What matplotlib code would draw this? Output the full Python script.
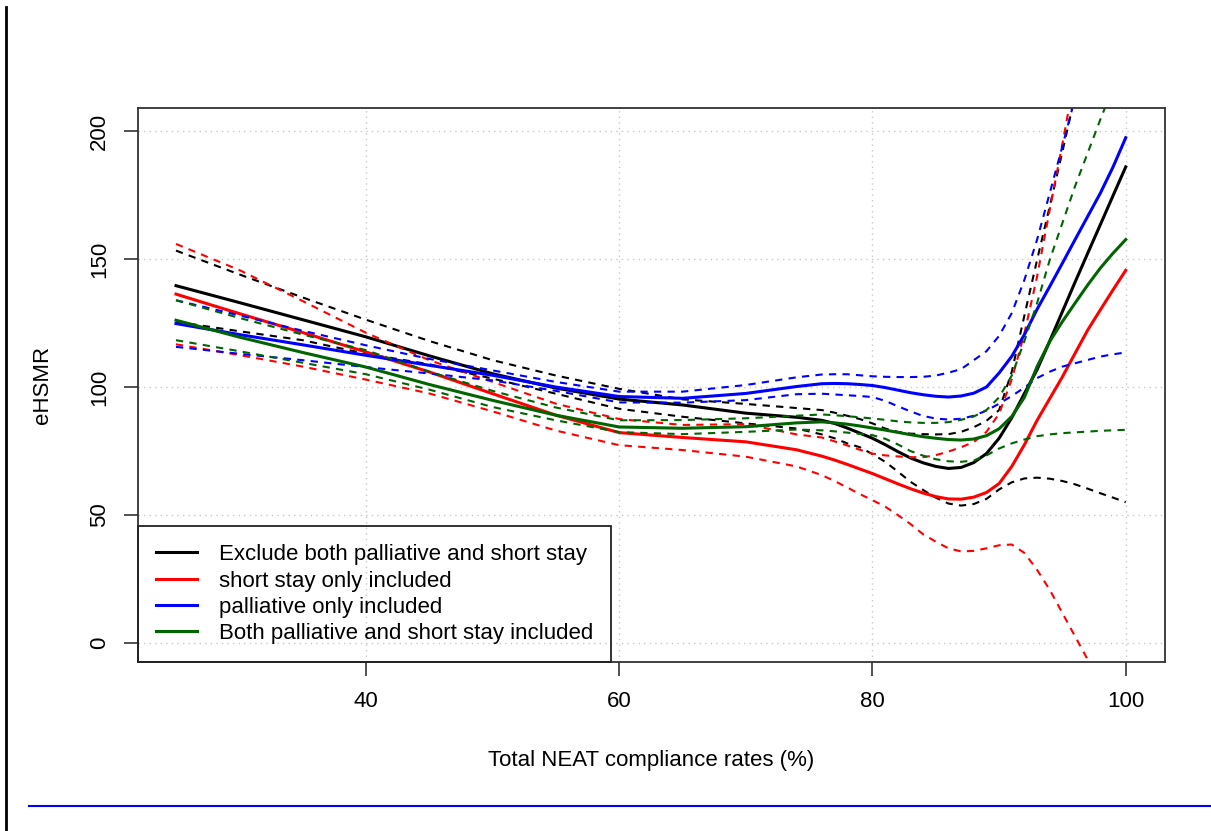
import numpy as np
import matplotlib.pyplot as plt
from matplotlib.lines import Line2D

plt.rcParams['font.family'] = ['Liberation Sans', 'DejaVu Sans']

# compliance rate grid (%)
x = [25, 30, 35, 40, 45, 50, 55, 60, 65, 70, 74, 76, 77, 78, 79, 80, 81, 82, 83, 84, 85, 86,
     87, 88, 89, 90, 91, 92, 93, 94, 95, 96, 97, 98, 99, 100]

# Exclude both palliative and short stay
excl_fit = [139.6, 133, 126.3, 119.6, 112.2, 105.2, 99.6, 95.3, 93, 89.8,
            88.2, 87, 85.8, 84, 82, 80, 77.5, 74.8, 72.3, 70.4, 69, 68.2, 68.6, 70.5, 74, 80,
            88, 97.5, 106.8, 118, 129.5, 141, 152.3, 163.5, 174.8, 186]
excl_hi = [153.3, 144, 135, 126.3, 118, 110.5, 104.5, 99.3, 95.2, 93.4,
           91.8, 91, 90, 88.8, 87.5, 85.8, 83.8, 82.5, 81.8, 81.6, 81.5, 81.6, 82.5, 84.3, 86.8, 91,
           106, 128, 149.7, 170.6, 192, 214, 236, 258, 280, 302]
excl_lo = [125.5, 121.8, 118.3, 113, 108.9, 103.3, 97.4, 91.5, 88.4, 85.8,
           83.8, 81.5, 80, 78, 76.5, 73.8, 70.8, 67, 63, 59.8, 56.8, 54.5, 53.7, 54.3, 56.3, 60,
           62.8, 64.3, 64.6, 64.2, 63.3, 62, 60.3, 58.5, 56.8, 55]

# short stay only included
short_fit = [136.3, 128.7, 121.3, 113.7, 105.9, 97.4, 89, 82.2, 80.3, 78.6,
             75.5, 73, 71.5, 69.8, 68, 66.2, 64.2, 62.2, 60.3, 58.6, 57.2, 56.3, 56.2, 57, 58.8, 62.3,
             69, 77.5, 87, 95.5, 104, 113.2, 122.3, 130.2, 138, 145.6]
short_hi = [155.9, 145.7, 133.6, 121.2, 110.5, 102, 93.5, 87.5, 85.2, 85.5,
            81.5, 80.3, 78.8, 77.2, 75.5, 74, 73.3, 72.9, 72.6, 72.6, 73.4, 74.8, 76.5, 78.5, 82.5, 89.6,
            103, 121, 143.2, 169.3, 195, 222, 250, 278, 306, 334]
short_lo = [116.7, 112.5, 108, 102.9, 97.5, 90.5, 83, 77.3, 75.4, 72.8,
            69, 65.6, 63.3, 60.8, 58.2, 55.8, 53.3, 50, 46.5, 42.5, 39.6, 37, 35.8, 36, 37, 38.2,
            38.5, 35.2, 28.6, 20.8, 11.7, 2.6, -6.5, -16, -26, -36]

# palliative only included
pall_fit = [124.8, 120.5, 116.5, 112.4, 108.5, 104.6, 100, 96.3, 95.6, 97.5,
            100.2, 101.3, 101.4, 101.3, 101, 100.6, 99.8, 98.8, 97.8, 97, 96.4, 96.1, 96.5, 97.6, 100, 105.5,
            112, 120.5, 130.4, 139.3, 148.4, 157.6, 166.7, 175.8, 186, 197.4]
pall_hi = [133.9, 128, 122, 116.3, 111, 106.5, 102, 98.2, 98.2, 100.8,
           103.8, 104.9, 105, 105, 104.6, 104.2, 104, 103.9, 103.9, 104, 104.5, 105.6, 107, 110.5, 114, 120,
           128.9, 141.9, 157.6, 175.8, 194.1, 213, 232, 251, 270, 289]
pall_lo = [115.7, 113, 110.5, 107.8, 105.3, 102.6, 98.5, 94, 93.9, 94.9,
           97.2, 97.4, 97.1, 96.8, 96.5, 96.1, 94.6, 92.5, 90.5, 88.7, 87.7, 87.3, 87.6, 88.8, 90.8, 93.5,
           96.5, 99.8, 103.5, 106, 108, 109.3, 110.6, 111.9, 112.8, 113.5]

# Both palliative and short stay included
both_fit = [126.1, 119.5, 113.5, 107.8, 101, 94.8, 89, 84.4, 83.9, 84.5,
            86, 86.4, 86, 85.5, 84.8, 84, 83.2, 82.3, 81.4, 80.6, 80, 79.5, 79.3, 79.7, 81, 83.7,
            88.5, 96, 108, 117.8, 125.6, 132.8, 139.9, 146.5, 152.3, 157.6]
both_hi = [133.9, 127, 120.5, 114.4, 106, 98.5, 92, 87, 87.1, 87.8,
           88.8, 89.3, 89, 88.6, 88.2, 87.7, 87.2, 86.6, 86.2, 86, 86, 86.3, 87.2, 88.5, 91, 96,
           104.5, 118, 132.8, 149.7, 164.1, 178.5, 191.5, 204.6, 217, 229]
both_lo = [118.3, 114, 109.5, 105, 99, 92.2, 87, 82.4, 81.6, 82.5,
           83.4, 83.1, 82.7, 82.2, 81.7, 81.2, 79.8, 77.6, 75, 73.2, 71.8, 71, 70.8, 71.3, 73.3, 76,
           78, 79.5, 80.8, 81.5, 82, 82.3, 82.6, 82.9, 83.1, 83.3]

labels = ['Exclude both palliative and short stay', 'short stay only included',
          'palliative only included', 'Both palliative and short stay included']
colors = ['black', 'red', 'blue', '#006400']
series = [(excl_fit, excl_hi, excl_lo), (short_fit, short_hi, short_lo),
          (pall_fit, pall_hi, pall_lo), (both_fit, both_hi, both_lo)]

fig = plt.figure(figsize=(12.11, 8.31), dpi=100)
ax = fig.add_axes([138 / 1211, 1 - 662 / 831, (1165 - 138) / 1211, (662 - 108) / 831])

for (fit, hi, lo), c in zip(series, colors):
    ax.plot(x, hi, color=c, lw=1.5, linestyle=(0, (3.5, 3)))
    ax.plot(x, lo, color=c, lw=1.5, linestyle=(0, (3.5, 3)))
    ax.plot(x, fit, color=c, lw=2.2)

ax.set_xlim(22, 103.1)
ax.set_ylim(-7.4, 209)
ax.set_xticks([40, 60, 80, 100])
ax.set_yticks([0, 50, 100, 150, 200])
ax.set_yticklabels(['0', '50', '100', '150', '200'], rotation=90, va='center')
ax.grid(True, color='#c8c8c8', linestyle=(0, (1, 3)), lw=1.0)
ax.set_axisbelow(True)
ax.tick_params(labelsize=16, length=10, width=1.2, color='#333333', pad=11)
ax.tick_params(axis='y', pad=10)
for s in ax.spines.values():
    s.set_color('#333333')
    s.set_linewidth(1.3)

ax.set_xlabel('Total NEAT compliance rates (%)', fontsize=16, labelpad=27)
ax.set_ylabel('eHSMR', fontsize=16, labelpad=26)

handles = [Line2D([], [], color=c, lw=2.2) for c in colors]
leg = ax.legend(handles, labels, loc='lower left', borderaxespad=0, fontsize=16,
                fancybox=False, edgecolor='#222222', facecolor='none', framealpha=1,
                handlelength=1.85, handletextpad=1.0, labelspacing=0.24, borderpad=0.8)
leg.get_frame().set_linewidth(1.3)

# page edge marks around the figure
fig.add_artist(Line2D([6 / 1211, 6 / 1211], [0, 1 - 7 / 831], color='black', lw=2,
                      transform=fig.transFigure))
fig.add_artist(Line2D([29 / 1211, 1], [1 - 805.5 / 831, 1 - 805.5 / 831], color='blue', lw=1.5,
                      transform=fig.transFigure))

fig.savefig('out.png', dpi=100)
